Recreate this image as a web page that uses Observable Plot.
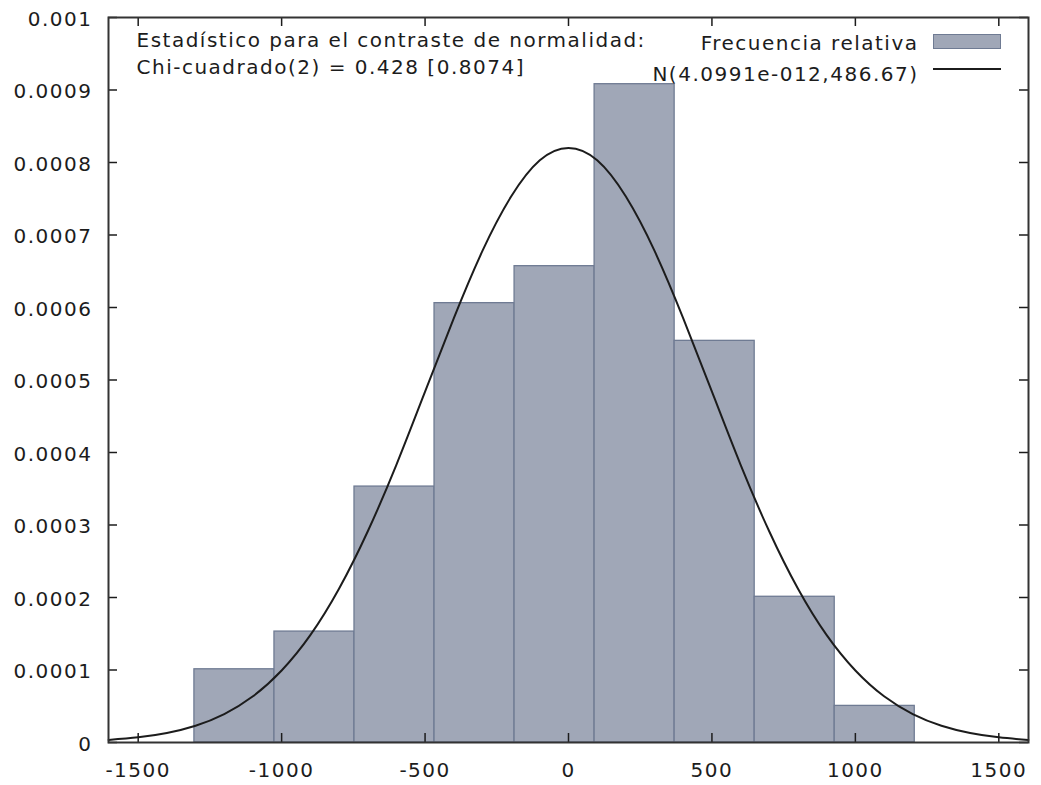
<!DOCTYPE html>
<html>
<head>
<meta charset="utf-8">
<script src="https://cdn.jsdelivr.net/npm/d3@7"></script>
<script src="https://cdn.jsdelivr.net/npm/@observablehq/plot@0.6"></script>
<style>
  html, body { margin: 0; padding: 0; background: #fff; }
  #wrap { position: relative; width: 1041px; height: 785px; }
  #wrap svg text { letter-spacing: 1.5px; }
  .swatch { position: absolute; box-sizing: border-box; }
</style>
</head>
<body>
<div id="wrap"></div>
<script>
// Histogram bin edges and relative frequency (density) values
const binEdges = [-1304, -1025, -746, -467, -188, 91, 370, 649, 928, 1207];
const relFreq = [0.000101, 0.000153, 0.000353, 0.000606, 0.000657, 0.000908, 0.000554, 0.000201, 0.0000505];

// Normal curve points
const curveX = [-1603, -1500, -1400, -1300, -1200, -1100, -1000, -900, -800, -700, -600, -500, -400, -300, -200, -100, 0,
                 100, 200, 300, 400, 500, 600, 700, 800, 900, 1000, 1100, 1200, 1300, 1400, 1500, 1603];
const curveY = [0.0000035, 0.0000071, 0.0000131, 0.0000231, 0.0000392, 0.0000637, 0.0000993, 0.000148, 0.000212, 0.000291, 0.000383, 0.000484, 0.000585, 0.000678, 0.000753, 0.000803, 0.000820,
                0.000803, 0.000753, 0.000678, 0.000585, 0.000484, 0.000383, 0.000291, 0.000212, 0.000148, 0.0000993, 0.0000637, 0.0000392, 0.0000231, 0.0000131, 0.0000071, 0.0000035];

// Ticks and labels
const xTicks = [-1500, -1000, -500, 0, 500, 1000, 1500];
const xTickLabels = ["-1500", "-1000", "-500", "0", "500", "1000", "1500"];
const yTicks = [0, 0.0001, 0.0002, 0.0003, 0.0004, 0.0005, 0.0006, 0.0007, 0.0008, 0.0009, 0.001];
const yTickLabels = ["0", "0.0001", "0.0002", "0.0003", "0.0004", "0.0005", "0.0006", "0.0007", "0.0008", "0.0009", "0.001"];

// Texts
const annotationLines = ["Estadístico para el contraste de normalidad:", "Chi-cuadrado(2) = 0.428 [0.8074]"];
const legendLabels = ["Frecuencia relativa", "N(4.0991e-012,486.67)"];

const bins = relFreq.map((v, i) => ({x1: binEdges[i], x2: binEdges[i + 1], y: v}));
const curve = curveX.map((x, i) => ({x, y: curveY[i]}));

const W = 1041, H = 785;
const mL = 108, mR = 13, mT = 17, mB = 43;
const plotW = W - mL - mR, plotH = H - mT - mB;
const tickLen = 9;
const barFill = "#a0a7b7", barStroke = "#6f7b93", ink = "#1c1c1c";

const chart = Plot.plot({
  width: W, height: H,
  marginLeft: mL, marginRight: mR, marginTop: mT, marginBottom: mB,
  x: {domain: [-1603.5, 1603.5], label: null},
  y: {domain: [0, 0.001], label: null},
  style: {fontFamily: "'DejaVu Sans', Verdana, sans-serif", fontSize: "20px", color: ink, background: "#fff"},
  marks: [
    Plot.rectY(bins, {x1: "x1", x2: "x2", y: "y", fill: barFill, stroke: barStroke, strokeWidth: 1.3}),
    Plot.line(curve, {x: "x", y: "y", stroke: ink, strokeWidth: 2, curve: "natural"}),
    // inward ticks on all four sides
    Plot.tickY(yTicks, {y: d => d, insetRight: plotW - tickLen, stroke: ink, strokeWidth: 1.5}),
    Plot.tickY(yTicks, {y: d => d, insetLeft: plotW - tickLen, stroke: ink, strokeWidth: 1.5}),
    Plot.tickX(xTicks, {x: d => d, insetTop: plotH - tickLen, stroke: ink, strokeWidth: 1.5}),
    Plot.tickX(xTicks, {x: d => d, insetBottom: plotH - tickLen, stroke: ink, strokeWidth: 1.5}),
    Plot.axisX(xTicks, {tickSize: 0, tickPadding: 20, label: null, tickFormat: d => xTickLabels[xTicks.indexOf(d)], fill: ink}),
    Plot.axisY(yTicks, {tickSize: 0, tickPadding: 16, dy: 2, label: null, tickFormat: d => yTickLabels[yTicks.indexOf(d)], fill: ink}),
    Plot.frame({stroke: "#333", strokeWidth: 2}),
    // annotation text
    Plot.text([annotationLines[0]], {frameAnchor: "top-left", text: d => d, textAnchor: "start", lineAnchor: "bottom", dx: 28, dy: 29, fill: ink}),
    Plot.text([annotationLines[1]], {frameAnchor: "top-left", text: d => d, textAnchor: "start", lineAnchor: "bottom", dx: 28, dy: 56, fill: ink}),
    // legend text
    Plot.text([legendLabels[0]], {frameAnchor: "top-right", text: d => d, textAnchor: "end", lineAnchor: "bottom", dx: -110, dy: 32, fill: ink}),
    Plot.text([legendLabels[1]], {frameAnchor: "top-right", text: d => d, textAnchor: "end", lineAnchor: "bottom", dx: -110, dy: 63, fill: ink})
  ]
});

const wrap = document.getElementById("wrap");
wrap.appendChild(chart);

// legend samples
const sw = document.createElement("div");
sw.className = "swatch";
Object.assign(sw.style, {left: "933px", top: "34px", width: "68px", height: "15px", background: barFill, border: "1.3px solid " + barStroke});
wrap.appendChild(sw);
const ln = document.createElement("div");
ln.className = "swatch";
Object.assign(ln.style, {left: "933px", top: "68px", width: "68px", height: "2px", background: ink});
wrap.appendChild(ln);
</script>
</body>
</html>
